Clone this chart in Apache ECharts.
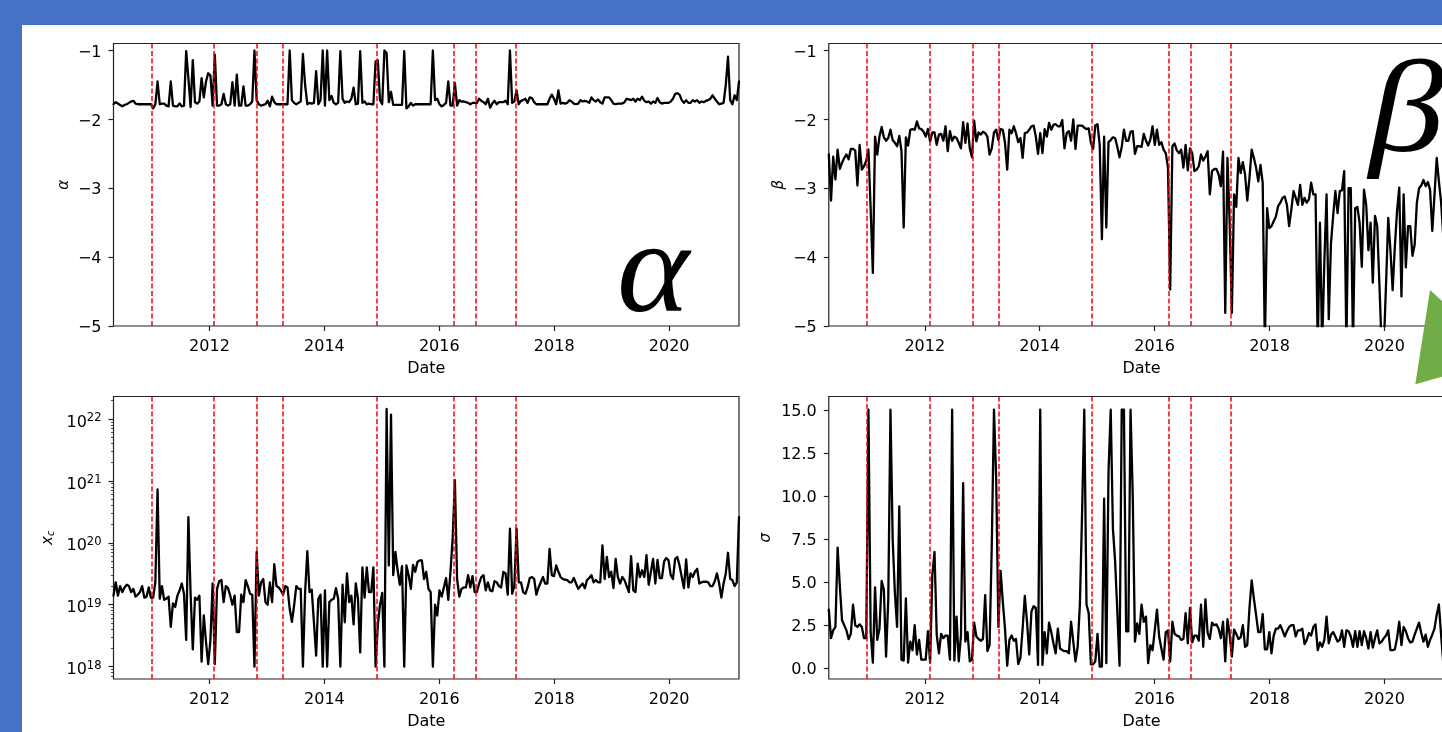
<!DOCTYPE html>
<html><head><meta charset="utf-8">
<style>html,body{margin:0;padding:0;background:#fff;overflow:hidden}#c{width:1442px;height:732px}</style>
<script src="https://cdn.jsdelivr.net/npm/echarts@6/dist/echarts.min.js"></script>
</head><body><div id="c"></div>
<script>
const alphaValues=[
-1.78,-1.75,-1.77,-1.79,-1.81,-1.79,-1.78,-1.76,-1.74,-1.73,
-1.77,-1.78,-1.78,-1.78,-1.78,-1.78,-1.78,-1.78,-1.84,-1.78,
-1.45,-1.78,-1.77,-1.77,-1.80,-1.81,-1.45,-1.80,-1.81,-1.81,
-1.77,-1.81,-1.80,-1.01,-1.40,-1.82,-1.14,-1.75,-1.77,-1.74,
-1.40,-1.68,-1.45,-1.33,-1.36,-1.80,-1.06,-1.80,-1.80,-1.78,
-1.63,-1.78,-1.80,-1.78,-1.46,-1.80,-1.35,-1.80,-1.80,-1.52,
-1.80,-1.80,-1.78,-1.74,-1.00,-1.72,-1.78,-1.80,-1.79,-1.78,
-1.73,-1.81,-1.67,-1.75,-1.78,-1.78,-1.78,-1.78,-1.78,-1.78,
-1.00,-1.72,-1.76,-1.78,-1.76,-1.74,-1.05,-1.50,-1.78,-1.76,
-1.77,-1.76,-1.30,-1.78,-1.72,-1.00,-1.80,-1.00,-1.72,-1.66,
-1.76,-1.78,-1.76,-1.01,-1.70,-1.76,-1.74,-1.75,-1.70,-1.54,
-1.78,-1.77,-1.01,-1.76,-1.74,-1.78,-1.77,-1.78,-1.78,-1.16,
-1.14,-1.72,-1.78,-1.00,-1.04,-1.75,-1.60,-1.79,-1.79,-1.79,
-1.79,-1.79,-1.01,-1.84,-1.81,-1.76,-1.80,-1.78,-1.78,-1.78,
-1.78,-1.78,-1.78,-1.78,-1.78,-1.00,-1.72,-1.70,-1.78,-1.81,
-1.79,-1.76,-1.45,-1.80,-1.80,-1.47,-1.80,-1.72,-1.74,-1.74,
-1.75,-1.76,-1.78,-1.76,-1.76,-1.76,-1.70,-1.73,-1.75,-1.78,
-1.70,-1.83,-1.77,-1.73,-1.78,-1.75,-1.75,-1.75,-1.73,-1.78,
-1.00,-1.76,-1.74,-1.58,-1.78,-1.73,-1.72,-1.70,-1.76,-1.68,
-1.69,-1.75,-1.78,-1.78,-1.78,-1.78,-1.78,-1.78,-1.70,-1.64,
-1.70,-1.78,-1.58,-1.77,-1.76,-1.77,-1.76,-1.72,-1.74,-1.77,
-1.78,-1.77,-1.72,-1.74,-1.73,-1.74,-1.76,-1.68,-1.72,-1.74,
-1.71,-1.75,-1.77,-1.68,-1.68,-1.68,-1.72,-1.77,-1.78,-1.77,
-1.77,-1.77,-1.75,-1.70,-1.71,-1.72,-1.70,-1.74,-1.70,-1.72,
-1.67,-1.73,-1.75,-1.74,-1.77,-1.74,-1.76,-1.69,-1.75,-1.77,
-1.76,-1.76,-1.76,-1.74,-1.70,-1.63,-1.62,-1.64,-1.72,-1.76,
-1.72,-1.76,-1.76,-1.72,-1.74,-1.72,-1.76,-1.74,-1.75,-1.73,
-1.72,-1.70,-1.65,-1.70,-1.74,-1.78,-1.77,-1.76,-1.50,-1.09,
-1.72,-1.78,-1.65,-1.72,-1.45];
const betaValues=[
-2.51,-3.18,-2.54,-2.87,-2.44,-2.72,-2.63,-2.56,-2.51,-2.58,
-2.43,-2.43,-2.45,-2.96,-2.37,-2.73,-2.68,-2.60,-2.44,-3.30,
-4.23,-2.25,-2.51,-2.25,-2.11,-2.26,-2.31,-2.27,-2.15,-2.30,
-2.34,-2.39,-2.24,-2.46,-3.57,-2.26,-2.38,-2.15,-2.14,-2.15,
-2.03,-2.13,-2.14,-2.18,-2.25,-2.14,-2.32,-2.19,-2.19,-2.37,
-2.22,-2.21,-2.31,-2.10,-2.46,-2.17,-2.31,-2.25,-2.27,-2.34,
-2.42,-2.04,-2.34,-2.06,-2.42,-2.55,-2.02,-2.32,-2.19,-2.22,
-2.18,-2.20,-2.25,-2.51,-2.42,-2.19,-2.15,-2.30,-2.14,-2.15,
-2.34,-2.73,-2.15,-2.20,-2.10,-2.20,-2.33,-2.27,-2.56,-2.20,
-2.19,-2.15,-2.10,-2.09,-2.25,-2.50,-2.20,-2.49,-2.14,-2.25,
-2.05,-2.15,-2.08,-2.07,-2.10,-2.10,-2.01,-2.42,-2.20,-2.17,
-2.31,-2.00,-2.43,-2.09,-2.09,-2.09,-2.12,-2.14,-2.13,-2.34,
-2.43,-2.09,-2.07,-2.37,-3.74,-2.25,-3.57,-2.33,-2.30,-2.26,
-2.27,-2.40,-2.55,-2.40,-2.15,-2.31,-2.31,-2.18,-2.17,-2.50,
-2.39,-2.39,-2.40,-2.21,-2.31,-2.38,-2.29,-2.10,-2.37,-2.15,
-2.37,-2.33,-2.44,-2.49,-2.70,-4.47,-2.39,-2.35,-2.45,-2.49,
-2.44,-2.70,-2.37,-2.74,-2.42,-2.49,-2.75,-2.73,-2.68,-2.51,
-2.60,-2.54,-2.46,-3.09,-2.75,-2.72,-2.72,-2.80,-2.97,-2.47,
-4.81,-2.56,-3.50,-4.81,-3.09,-3.27,-2.56,-2.78,-2.62,-2.80,
-3.18,-2.85,-2.44,-2.56,-2.70,-2.90,-2.66,-2.92,-5.30,-3.29,
-3.58,-3.55,-3.48,-3.41,-3.26,-3.21,-3.14,-3.12,-3.24,-3.55,
-3.31,-3.04,-3.14,-3.24,-2.95,-3.24,-3.14,-3.21,-3.16,-2.92,
-3.09,-3.09,-5.30,-3.50,-5.30,-4.06,-3.09,-4.90,-3.80,-3.40,
-3.04,-3.36,-3.04,-3.03,-2.75,-5.30,-3.00,-3.00,-5.30,-3.29,
-3.27,-3.50,-4.14,-3.02,-3.24,-3.90,-3.50,-4.37,-3.40,-3.55,
-4.40,-5.30,-5.30,-4.40,-3.43,-3.90,-4.48,-3.85,-3.33,-2.99,
-4.57,-3.09,-4.15,-3.55,-3.55,-3.98,-3.82,-3.21,-3.00,-2.96,
-2.88,-2.97,-2.91,-3.02,-3.62,-3.10,-2.56,-2.90,-3.20,-3.70];
const xcValues=[
1.4e19,2.3e19,1.4e19,2e19,1.6e19,1.9e19,2.1e19,2e19,1.6e19,1.8e19,
1.35e19,1.45e19,1.6e19,2e19,1.3e19,1.35e19,1.9e19,1.3e19,1.3e19,2.3e19,
7.3e20,1.25e19,2e19,1.2e19,1.25e19,1.35e19,4.4e18,1.05e19,9.2e18,1.4e19,
1.7e19,2.2e19,1.5e19,2.7e18,2.6e20,1.5e19,1.9e18,1.3e19,1.2e19,1.4e19,
1.2e18,6.7e18,2.5e18,1.1e18,2.65e18,2.2e19,1.1e18,1.8e19,2.4e19,2.5e19,
1.1e19,2e19,1.85e19,1.4e19,1e19,1.4e19,3.6e18,3.6e18,1.45e19,1.1e19,
2.5e19,2e19,1.5e19,1.45e19,1e18,7.1e19,1.4e19,2.3e19,2.6e19,1.1e19,
1e19,2.3e19,1.1e19,4.5e19,2e19,1.9e19,1.7e19,1.45e19,2e19,1.9e19,
8.6e18,5.3e18,9.7e18,2e19,1.8e19,1.8e19,1e18,1.6e19,7.3e19,1.6e19,
1.75e19,5.2e18,1.5e18,1.25e19,1.45e19,1e18,1.7e19,1e18,1.1e19,1.2e19,
1.25e19,1.85e19,1.25e19,1e18,2.1e19,5.2e18,3.2e19,1.1e19,1.4e19,4.8e18,
2.2e19,1.25e19,1.7e18,4e19,1.3e19,4e19,1.6e19,1.6e19,4e19,1e18,
4.6e18,1e19,1.55e19,1e18,1.45e22,4.3e19,1.17e22,3e19,7.1e19,3.6e19,
2.1e19,4.2e19,1e18,4.3e19,3e19,1.8e19,4.4e19,3.4e19,4.9e19,5.2e19,
5.2e19,2.6e19,3.4e19,1.8e19,1.6e19,1e18,1e19,6.7e18,1.7e19,1.35e19,
1.9e19,2.7e19,1.2e19,3.4e19,1.2e20,1.03e21,2.6e19,1.35e19,1.8e19,1.9e19,
1.9e19,3e19,1.9e19,2.9e19,1.6e19,1.6e19,2.2e19,2.8e19,3e19,1.7e19,
2.3e19,1.7e19,1.65e19,2.4e19,2.3e19,2e19,1.9e19,3.4e19,3.2e19,1.45e19,
1.7e20,1.5e19,2e19,1.7e20,2.3e19,2.3e19,1.6e19,1.5e19,1.9e19,2.7e19,
2.8e19,2.6e19,1.45e19,1.9e19,2.3e19,2.8e19,2.2e19,2.2e19,8e19,3e19,
2.9e19,4.3e19,3.4e19,2.8e19,2.6e19,2.55e19,2.5e19,2.3e19,2.3e19,2.7e19,
2.2e19,1.8e19,2e19,2.2e19,1.85e19,2.5e19,2.7e19,3e19,2.3e19,2.5e19,
2.3e19,2.3e19,9.1e19,2.6e19,5.9e19,2.8e19,3.4e19,1.85e19,5.5e19,2.8e19,
2.2e19,2.8e19,2.5e19,2e19,1.6e19,6.1e19,1.7e19,1.6e19,4.6e19,2.8e19,
3.6e19,2.8e19,6.3e19,2.1e19,3.4e19,5.5e19,2.2e19,5.3e19,2.7e19,2.7e19,
5e19,5.7e19,5.2e19,3e19,2.6e19,5.5e19,5.9e19,4.3e19,2.8e19,1.85e19,
5.4e19,1.9e19,3.2e19,2.8e19,3.4e19,3.8e19,2.2e19,2.3e19,2.35e19,2.35e19,
2.3e19,2e19,2e19,2.4e19,3.2e19,2.2e19,1.3e19,2.2e19,3.2e19,6.9e19,
2.6e19,2.5e19,2e19,2.3e19,2.6e20];
const sigmaValues=[
3.4,1.75,2.2,2.4,7.0,4.8,2.8,2.5,2.2,1.7,
2.0,3.7,2.5,2.4,2.55,2.4,1.75,1.75,15,2.1,
0.33,4.7,1.65,2.3,5.07,4.55,0.68,4.0,15,7.5,
4.4,2.4,9.4,0.5,0.45,4.05,0.33,1.55,1.05,2.5,
0.8,1.65,0.5,0.5,0.5,2.15,0.33,5.4,6.75,1.95,
0.87,2.0,1.75,1.9,1.9,0.5,15,0.45,3.0,0.4,
1.9,10.75,1.55,2.1,0.4,0.5,2.65,1.85,1.7,1.6,
1.7,4.25,1.0,1.35,7.15,15,11,2.4,5.65,3.85,
2.3,0.15,1.65,1.9,1.6,1.7,0.25,0.6,2.3,4.2,
2.7,0.8,3.3,3.6,3.5,0.2,15,0.2,2.1,0.87,
2.65,2.1,1.45,0.87,2.3,1.15,1.05,1.0,1.0,0.87,
2.7,1.55,0.4,1.25,3.7,9.0,15,3.7,3.2,0.23,
0.23,0.4,2.0,0.1,0.1,9.85,0.3,11.4,15,8.1,
6.2,3.3,0.15,15,15,2.15,2.15,15,10,1.55,
2.6,2.0,3.7,2.7,3.0,0.3,1.35,1.05,2.2,3.4,
1.85,1.15,0.5,2.1,2.2,0.4,2.7,2.0,1.9,1.85,
1.65,1.7,3.2,1.45,3.5,1.5,1.9,1.9,1.6,3.7,
1.25,4.0,2.05,1.7,2.65,2.5,2.55,2.3,1.75,2.7,
0.4,2.85,1.95,0.68,2.25,2.0,1.7,1.8,2.5,1.25,
1.35,3.5,5.1,4.05,3.1,2.1,2.1,3.15,1.1,1.1,
2.1,0.87,1.9,2.3,2.3,2.5,2.2,1.85,2.15,2.4,
2.5,2.5,1.85,2.2,2.2,2.3,1.4,1.65,2.05,1.9,
2.4,2.55,1.05,1.5,1.25,1.65,3.0,1.45,1.95,2.1,
1.85,1.55,1.65,2.2,1.25,2.2,2.15,1.85,1.25,2.15,
1.25,2.15,1.35,2.15,1.75,1.15,2.1,1.2,1.75,2.2,
1.45,1.55,1.75,1.9,2.2,1.05,1.05,1.1,1.75,2.7,
1.35,2.4,2.15,1.75,1.5,1.55,1.95,2.3,2.65,2.05,
1.55,1.95,1.25,1.65,1.95,2.3,3.1,3.7,1.95,0.3];
const eventYears=[2010.995,2012.082,2012.831,2013.284,2014.915,2016.251,2016.629,2017.331];
const yearTicks=[2012,2014,2016,2018,2020];
const alphaTicks=[-5,-4,-3,-2,-1];
const sigmaTicks=[0,2.5,5,7.5,10,12.5,15];
const xcTicks=[1e18,1e19,1e20,1e21,1e22];
const startYear=2010.33, stepYears=14/365.25, pointCount=285, endYear=startYear+(pointCount-1)*stepYears;
const xcMinor=[];
for(let e=17;e<=22;e++)for(let k=2;k<=9;k++){const v=k*Math.pow(10,e);if(v>6.3e17&&v<2.3e22)xcMinor.push(v);}
const pair=arr=>arr.map((v,i)=>[startYear+i*stepYears,v]);
const FONT="DejaVu Sans",INK="#000",SP="#222";
const L=[113.5,828.8],T=[43.5,396.5],W=625.5,H=282.5;
const grids=[];
[0,1].forEach(r=>[0,1].forEach(c=>grids.push({left:L[c],top:T[r],width:W,height:H,show:true,outerBoundsMode:"none",containLabel:false,borderColor:SP,borderWidth:1.2,backgroundColor:"transparent"})));
const xAxes=grids.map((g,i)=>({gridIndex:i,type:"value",min:startYear,max:endYear,
  name:"Date",nameLocation:"middle",nameGap:35,nameTextStyle:{fontFamily:FONT,fontSize:16,color:INK},
  axisLine:{show:false,onZero:false},splitLine:{show:false},minorTick:{show:false},
  axisTick:{show:true,length:5,lineStyle:{color:SP,width:1.2},customValues:yearTicks},
  axisLabel:{show:true,margin:13,fontFamily:FONT,fontSize:16,color:INK,hideOverlap:false,customValues:yearTicks,formatter:v=>String(Math.round(v))}}));
const yBase=(i,name,gap,ticks,fmt,extra)=>Object.assign({gridIndex:i,name:name,nameLocation:"middle",nameGap:gap,nameRotate:90,
  nameTextStyle:{fontFamily:FONT,fontStyle:"italic",fontSize:15,color:INK,rich:{i:{fontFamily:FONT,fontStyle:"italic",fontSize:15,color:INK},s:{fontFamily:FONT,fontStyle:"italic",fontSize:10,color:INK,verticalAlign:"bottom",padding:[6,0,0,0]}}},
  axisLine:{show:false,onZero:false},splitLine:{show:false},
  axisTick:{show:true,length:5,lineStyle:{color:SP,width:1.2},customValues:ticks},
  axisLabel:{show:true,margin:12,padding:[4,0,0,0],fontFamily:FONT,fontSize:16,color:INK,customValues:ticks,formatter:fmt,
    rich:{b:{fontFamily:FONT,fontSize:16,color:INK,padding:[3,0,0,0]},s:{fontFamily:FONT,fontSize:11.5,color:INK,padding:[0,0,6,0]}}}},extra);
const minus=v=>String(v).replace("-","−");
const yAxes=[
 yBase(0,"α",42,alphaTicks,minus,{type:"value",min:-5,max:-0.898}),
 yBase(1,"β",42,alphaTicks,minus,{type:"value",min:-5,max:-0.898}),
 yBase(2,"{i|x}{s|c}",57,xcTicks,v=>"{b|10}{s|"+Math.round(Math.log10(v))+"}",{type:"log",logBase:10,min:Math.pow(10,17.8),max:Math.pow(10,22.363)}),
 yBase(3,"σ",55,sigmaTicks,v=>v.toFixed(1),{type:"value",min:-0.62,max:15.77}),
 {gridIndex:2,type:"log",logBase:10,min:Math.pow(10,17.8),max:Math.pow(10,22.363),position:"left",axisLine:{show:false,onZero:false},splitLine:{show:false},axisLabel:{show:false},
  axisTick:{show:true,length:2.5,lineStyle:{color:SP,width:0.8},customValues:xcMinor}}
];
const series=[alphaValues,betaValues,xcValues,sigmaValues].map((vals,i)=>({type:"line",xAxisIndex:i,yAxisIndex:i,data:pair(vals),
  showSymbol:false,symbol:"none",sampling:null,smooth:false,animation:false,clip:true,z:3,
  lineStyle:{color:"#000",width:2.3,join:"round",cap:"round"},
  markLine:{silent:true,symbol:"none",animation:false,z:5,label:{show:false},lineStyle:{color:"#ff0000",width:1.5,type:[5,2.5],opacity:1},data:eventYears.map(x=>({xAxis:x}))}}));
const graphic=[
 {type:"rect",left:0,top:0,shape:{width:1442,height:25},style:{fill:"#4472C4"},z:10,silent:true},
 {type:"rect",left:0,top:0,shape:{width:22,height:732},style:{fill:"#4472C4"},z:10,silent:true},
 {type:"polygon",shape:{points:[[1430,290],[1443,302],[1443,376.5],[1415.3,384.3]]},style:{fill:"#70AD47"},z:10,silent:true},
 {type:"text",x:617,y:342,scaleX:1.05,style:{text:"α",fontFamily:"Liberation Serif",fontStyle:"italic",fontSize:131,fill:"#000",textVerticalAlign:"bottom"},z:10,silent:true},
 {type:"text",x:1369,y:182.4,scaleX:1.15,style:{text:"β",fontFamily:"Liberation Serif",fontStyle:"italic",fontSize:131,fill:"#000",textVerticalAlign:"bottom"},z:10,silent:true}
];
const chart=echarts.init(document.getElementById("c"),null,{renderer:"canvas",width:1442,height:732});
chart.setOption({animation:false,backgroundColor:"#fff",grid:grids,xAxis:xAxes,yAxis:yAxes,series:series,graphic:graphic,tooltip:{show:false},legend:{show:false}});
</script></body></html>
